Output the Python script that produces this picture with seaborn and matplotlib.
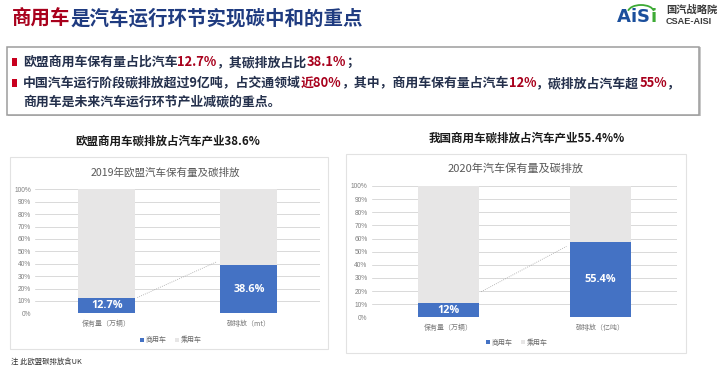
import matplotlib
matplotlib.use("Agg")
import matplotlib.pyplot as plt
from matplotlib.patches import Rectangle, Patch, Arc
import seaborn as sns

# ---------------- data ----------------
eu_categories = ['保有量（万辆）', '碳排放（mt）']
eu_commercial = [12.7, 38.6]
eu_passenger = [87.3, 61.4]
eu_labels = ['12.7%', '38.6%']
eu_connector = [12.7, 41.6]

cn_categories = ['保有量（万辆）', '碳排放（亿吨）']
cn_commercial = [10.7, 57.5]
cn_passenger = [89.3, 42.5]
cn_labels = ['12%', '55.4%']
cn_connector = [19.5, 54.0]

y_ticks = list(range(0, 101, 10))
legend_names = ['商用车', '乘用车']

main_title = [('商用车', 'red'), ('是汽车运行环节实现碳中和的重点', 'navy')]
bullet1 = [('欧盟商用车保有量占比汽车', 'ink'), ('12.7%', 'red'), ('，其碳排放占比', 'ink'),
           ('38.1%', 'red'), ('；', 'ink')]
bullet2 = [('中国汽车运行阶段碳排放超过9亿吨，占交通领域', 'ink'), ('近80%', 'red'),
           ('，其中，商用车保有量占汽车', 'ink'), ('12%', 'red'), ('，碳排放占汽车超', 'ink'),
           ('55%', 'red'), ('，', 'ink')]
bullet3 = [('商用车是未来汽车运行环节产业减碳的重点。', 'ink')]

# ---------------- style ----------------
sns.set_style('white')
plt.rcParams['font.family'] = ['Noto Sans CJK SC', 'DejaVu Sans']

W, H = 722, 370
fig = plt.figure(figsize=(W / 100, H / 100), dpi=100)
fig.patch.set_facecolor('white')
renderer = fig.canvas.get_renderer()

COL = {'red': '#A8001C', 'navy': '#1F3B80', 'ink': '#24304C'}
BLUE = '#4472C4'
GREY = '#E7E6E6'


def fx(px):
    return px / W


def fy(py):
    return 1 - py / H


def chain(x, y, parts, size, weight='bold', **kw):
    for s, c in parts:
        t = fig.text(fx(x), fy(y), s, color=COL.get(c, c), fontsize=size,
                     fontweight=weight, ha='left', va='center', **kw)
        bb = t.get_window_extent(renderer)
        x += bb.width


# main title
chain(12, 19, main_title, 14.0)

# logo
lx = 617
for s, c in [('A', '#1B4F9C'), ('i', '#1B4F9C'), ('S', '#1B4F9C'), ('i', '#3DAA35')]:
    t = fig.text(fx(lx), fy(17), s, color=c, fontsize=13, fontweight='bold',
                 family='DejaVu Sans', ha='left', va='center')
    lx += t.get_window_extent(renderer).width
fig.patches.append(Arc((fx(641), fy(12)), fx(26), 14 / H, theta1=10, theta2=170,
                       transform=fig.transFigure, color='#3DAA35', lw=1.3))
fig.text(fx(666), fy(10), '国汽战略院', fontsize=7.4, fontweight='bold', color='#3a3a3a',
         ha='left', va='center')
fig.text(fx(666), fy(21), 'CSAE-AISI', fontsize=6.6, fontweight='bold', color='#3a3a3a',
         family='Liberation Sans', ha='left', va='center')

# bullet box
fig.patches.append(Rectangle((fx(8), fy(116)), fx(693), 69 / H, transform=fig.transFigure,
                             facecolor='#C8C8C8', edgecolor='none', zorder=-3))
fig.patches.append(Rectangle((fx(7), fy(115)), fx(692), 68 / H, transform=fig.transFigure,
                             facecolor='white', edgecolor='#9C9C9C', lw=1.1, zorder=-2))
for by in (62, 83):
    fig.patches.append(Rectangle((fx(12), fy(by + 4)), fx(5), 8 / H, transform=fig.transFigure,
                                 facecolor='#C8001E', edgecolor='none'))
chain(23, 62, bullet1, 9.3)
chain(23, 83, bullet2, 9.3)
chain(23, 102, bullet3, 9.3)


def chart(box, ax_rect, cats, comm, pas, labels, conn, title, title_xy, inner, inner_xy,
          inner_size, legend_xy):
    x0, y0, x1, y1 = box
    fig.patches.append(Rectangle((fx(x0), fy(y1)), fx(x1 - x0), (y1 - y0) / H,
                                 transform=fig.transFigure, facecolor='white',
                                 edgecolor='#E2E2E2', lw=0.8, zorder=-1))
    fig.text(fx(title_xy[0]), fy(title_xy[1]), title, fontsize=8.3, fontweight='bold',
             color='#1A1A1A', ha='center', va='center')
    fig.text(fx(inner_xy[0]), fy(inner_xy[1]), inner, fontsize=inner_size, color='#595959',
             ha='center', va='center')
    ax = fig.add_axes(ax_rect)
    ax.set_facecolor('none')
    totals = [c + p for c, p in zip(comm, pas)]
    bw = 0.4
    sns.barplot(x=cats, y=totals, color=GREY, width=bw, saturation=1, linewidth=0,
                errorbar=None, ax=ax, zorder=2)
    sns.barplot(x=cats, y=comm, color=BLUE, width=bw, saturation=1, linewidth=0,
                errorbar=None, ax=ax, zorder=3)
    ax.plot([bw / 2 + 0.015, 1 - bw / 2 - 0.025], conn, linestyle=(0, (1, 1.5)),
            color='#A6A6A6', lw=0.6, zorder=4)
    for i, (v, lab) in enumerate(zip(comm, labels)):
        ax.text(i, v / 2, lab, color='white', fontsize=7.8, fontweight='bold',
                family='Open Sans', ha='center', va='center', zorder=5)
    ax.set_xlim(-0.505, 1.5)
    ax.set_ylim(0, 100)
    ax.set_yticks(y_ticks)
    ax.set_yticklabels([f'{v}%' for v in y_ticks])
    ax.grid(axis='y', color='#D9D9D9', lw=0.7)
    ax.grid(axis='x', visible=False)
    ax.set_axisbelow(True)
    for s in ax.spines.values():
        s.set_visible(False)
    ax.tick_params(axis='y', length=0, pad=3, labelsize=4.8, labelcolor='#808080')
    for lab in ax.get_yticklabels():
        lab.set_family('Liberation Sans')
    ax.tick_params(axis='x', length=0, pad=5, labelsize=5.0, labelcolor='#7A7A7A')
    ax.set_xlabel('')
    ax.set_ylabel('')
    handles = [Patch(facecolor=BLUE, edgecolor='none'), Patch(facecolor=GREY, edgecolor='none')]
    ax.legend(handles, legend_names, loc='center', bbox_to_anchor=legend_xy, ncol=2,
              frameon=False, fontsize=5.0, handlelength=0.5, handleheight=0.5,
              handletextpad=0.3, columnspacing=1.2, labelcolor='#6A6A6A')
    return ax


chart((10, 157, 328, 349),
      [fx(35), fy(313.3), fx(285), 124 / H],
      eu_categories, eu_commercial, eu_passenger, eu_labels, eu_connector,
      '欧盟商用车碳排放占汽车产业38.6%', (168, 141),
      '2019年欧盟汽车保有量及碳排放', (165.5, 173), 7.6,
      ((171 - 35) / 285, (313.3 - 340) / 124))

chart((346, 154, 686, 353),
      [fx(371.7), fy(317.3), fx(305), 131.3 / H],
      cn_categories, cn_commercial, cn_passenger, cn_labels, cn_connector,
      '我国商用车碳排放占汽车产业55.4%%', (527, 138),
      '2020年汽车保有量及碳排放', (516, 169), 8.0,
      ((517 - 371.7) / 305, (317.3 - 342.7) / 131.3))

fig.text(fx(11), fy(362), '注 此欧盟碳排放含UK', fontsize=5.3, color='#333333',
         ha='left', va='center')

fig.savefig('out.png', dpi=100, facecolor='white')
